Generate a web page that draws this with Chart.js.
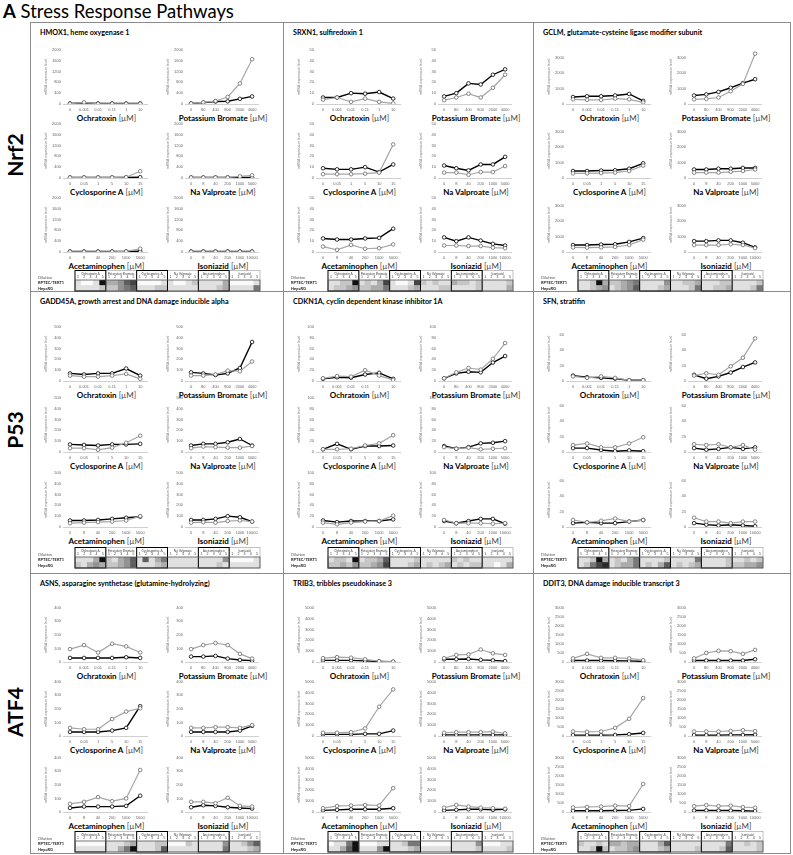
<!DOCTYPE html>
<html>
<head>
<meta charset="utf-8">
<script src="https://cdn.jsdelivr.net/npm/chart.js@4.4.0/dist/chart.umd.min.js"></script>
<style>
  body { margin: 0; background: #fff; font-family: Lato, 'Open Sans', sans-serif; }
  #page { position: relative; width: 793px; height: 855px; overflow: hidden; }
  #page canvas, #page .lbl, #page .line { position: absolute; }
  .lbl { white-space: nowrap; line-height: 1; color: #000; }
  .line { background: #8c8c8c; }
</style>
</head>
<body>
<div id="page"></div>
<script>
// pathways, genes and compounds
const pathwayNames = ['Nrf2', 'P53', 'ATF4'];
const geneTitles = [
  'HMOX1, heme oxygenase 1', 'SRXN1, sulfiredoxin 1', 'GCLM, glutamate-cysteine ligase modifier subunit',
  'GADD45A, growth arrest and DNA damage inducible alpha', 'CDKN1A, cyclin dependent kinase inhibitor 1A', 'SFN, stratifin',
  'ASNS, asparagine synthetase (glutamine-hydrolyzing)', 'TRIB3, tribbles pseudokinase 3', 'DDIT3, DNA damage inducible transcript 3'
];
const compoundNames = ['Ochratoxin', 'Potassium Bromate', 'Cyclosporine A', 'Na Valproate', 'Acetaminophen', 'Isoniazid'];
const heatGroupNames = ['Ochratoxin A', 'Potassium Bromate', 'Cyclosporine A', 'Na Valproate', 'Acetaminophen', 'Isoniazid'];
const dilutionLabels = ['1', '2', '3', '4', '5'];

// dose tick labels (µM)
const ochratoxinDoses = ['0', '0.001', '0.01', '0.11', '1', '10'];
const bromateDoses = ['0', '80', '400', '800', '2000', '4000'];
const cyclosporineDoses = ['0', '0.05', '1', '5', '10', '15'];
const valproateDoses = ['0', '8', '40', '200', '1000', '5000'];
const acetaminophenDoses = ['0', '8', '40', '200', '1000', '5000'];
const isoniazidDoses = ['0', '8', '40', '200', '1000', '10000'];
const doseLabels = [ochratoxinDoses, bromateDoses, cyclosporineDoses, valproateDoses, acetaminophenDoses, isoniazidDoses];

// y axis per gene
const yMaxes = [2000, 50, 3500, 500, 100, 70, 400, 5000, 3000];
const ySteps = [200, 5, 500, 50, 10, 10, 50, 500, 500];

// mRNA expression, one row per compound (Och, KBrO3, CycA, NaVal, APAP, INH)
const hmox1Black = [[20,40,20,20,20,20],[20,50,90,100,190,280],[20,20,20,20,20,30],[20,20,20,20,20,20],[20,20,20,20,20,30],[20,20,20,20,20,20]];
const hmox1Gray = [[10,60,10,10,10,10],[20,60,110,260,760,1650],[20,20,20,20,30,250],[20,20,20,20,60,100],[10,10,10,10,20,120],[10,10,10,10,10,10]];
const srxn1Black = [[6,6,10,9.5,11,5],[7,10,19,18,27,32],[9,8,8,10,5.5,12.5],[11.5,9,7,12.5,12.5,19.5],[12.5,11.5,11.5,12.5,13,21.5],[13.5,10,13.5,10.5,7.5,6]];
const srxn1Gray = [[4,6,2,5,2,0.5],[3.5,6,9.5,6,15,27],[3.5,3.5,3.5,4,5,31],[5,5,3,5.5,5.5,11],[5,2,6.5,3,3.5,7],[6,6,5.5,5.5,4,3.5]];
const gclmBlack = [[450,500,500,550,650,200],[550,620,780,1050,1350,1600],[450,450,480,500,600,950],[550,550,600,600,650,650],[450,450,480,500,650,900],[700,700,750,750,600,300]];
const gclmGray = [[300,270,260,350,300,100],[300,330,420,820,1300,3250],[300,300,320,350,450,800],[350,350,350,400,450,550],[300,280,300,330,450,800],[450,450,450,500,450,250]];
const gadd45aBlack = [[70,60,70,70,115,50],[80,70,55,70,120,360],[70,65,60,70,70,75],[60,75,75,90,120,60],[60,60,65,75,85,95],[65,65,75,100,90,50]];
const gadd45aGray = [[50,40,40,50,65,20],[50,50,60,95,90,180],[35,35,20,40,85,150],[35,50,45,40,40,55],[35,40,45,50,60,100],[40,45,40,55,60,50]];
const cdkn1aBlack = [[4,7,6,12,15,4],[5,14,17,16,34,46],[5,15,5,11,11,12],[11,6,9,16,17,20],[12,9,11,11,11,14],[11,7,11,15,15,6]];
const cdkn1aGray = [[5,9,8,20,10,2],[5,16,24,21,41,70],[5,5,6,12,16,31],[9,6,8,5,6,7],[8,5,8,10,11,21],[13,7,7,7,6,7]];
const sfnBlack = [[7,5,4,3,1,1],[8,3,6,11,18,24],[5,5,2.5,1,2,1],[5,3,4,6,4,6],[5,6,5,5,7,9],[5,3,2,3,2,1]];
const sfnGray = [[6,4,6,4,1,1],[7,10,8,19,30,55],[9,11,6,6,11,19],[10,9,10,6,9,3],[9,6,8,11,7,9],[12,7,7,5,7,7]];
const asnsBlack = [[30,30,30,30,35,30],[40,40,45,25,15,10],[30,30,30,40,60,220],[30,30,30,30,40,75],[30,40,40,40,45,120],[35,50,45,35,30,25]];
const asnsGray = [[95,125,70,135,115,70],[95,125,140,125,60,25],[60,50,50,125,180,205],[60,60,65,65,60,80],[60,75,110,80,100,310],[75,75,65,105,45,40]];
const trib3Black = [[150,150,150,100,50,20],[250,250,280,200,150,80],[150,150,150,200,200,500],[100,100,100,100,100,100],[150,200,250,250,250,350],[150,200,250,250,200,250]];
const trib3Gray = [[350,450,400,250,70,30],[350,650,700,1150,800,650],[300,300,350,700,2700,4300],[300,350,350,350,400,250],[350,550,600,650,600,2200],[400,650,500,400,350,300]];
const ddit3Black = [[80,80,80,70,60,30],[80,80,80,80,80,150],[50,50,50,60,100,170],[50,50,50,60,60,70],[70,70,70,80,90,170],[80,90,80,80,70,50]];
const ddit3Gray = [[200,450,230,230,200,100],[200,500,620,600,450,670],[250,230,250,450,950,2100],[250,250,250,280,320,270],[250,280,300,350,330,1550],[320,380,330,350,270,240]];
const blackSeries = [hmox1Black, srxn1Black, gclmBlack, gadd45aBlack, cdkn1aBlack, sfnBlack, asnsBlack, trib3Black, ddit3Black];
const graySeries = [hmox1Gray, srxn1Gray, gclmGray, gadd45aGray, cdkn1aGray, sfnGray, asnsGray, trib3Gray, ddit3Gray];

// heat map shading 0 (white) .. 9 (black), 5 dilutions x 6 compounds
const hmox1HeatRptec = [1,0,0,1,9, 3,3,4,6,7, 0,0,0,0,1, 1,0,0,1,2, 1,1,1,1,3, 0,0,0,0,1];
const hmox1HeatHepa = [1,1,1,1,2, 2,2,4,5,6, 1,1,1,2,2, 1,1,1,1,1, 1,1,1,2,3, 1,1,1,1,5];
const srxn1HeatRptec = [1,1,2,2,9, 1,2,1,3,7, 1,0,0,1,7, 2,1,2,1,1, 3,2,2,1,2, 1,1,1,1,2];
const srxn1HeatHepa = [1,2,2,3,4, 2,2,3,3,5, 1,1,1,2,3, 1,1,1,2,2, 1,1,1,1,2, 1,1,1,1,3];
const gclmHeatRptec = [1,1,2,9,3, 2,2,3,4,5, 1,1,1,1,4, 1,1,2,2,3, 1,1,1,2,2, 1,1,1,1,2];
const gclmHeatHepa = [1,1,2,3,4, 1,2,3,4,6, 1,1,1,2,3, 1,1,1,2,5, 1,1,2,2,3, 1,1,1,2,5];
const gadd45aHeatRptec = [1,1,1,3,9, 2,1,3,4,6, 1,6,1,3,5, 1,1,1,1,1, 1,1,1,1,4, 0,0,0,0,1];
const gadd45aHeatHepa = [2,1,3,4,3, 2,2,3,4,6, 1,1,1,2,3, 1,1,1,1,1, 1,1,1,2,1, 1,1,1,1,1];
const cdkn1aHeatRptec = [1,2,2,1,9, 1,2,2,3,6, 1,1,1,1,2, 1,1,1,1,1, 2,1,2,1,1, 1,1,1,1,1];
const cdkn1aHeatHepa = [2,2,3,2,4, 2,2,3,4,7, 1,1,1,2,3, 1,2,1,2,3, 1,2,1,2,2, 1,1,0,1,3];
const sfnHeatRptec = [1,1,2,9,3, 1,2,1,3,5, 1,1,1,1,2, 1,1,1,1,5, 1,1,1,1,2, 1,1,2,1,2];
const sfnHeatHepa = [1,2,5,7,8, 1,2,3,3,5, 1,2,1,3,6, 1,2,1,2,3, 1,1,1,1,2, 2,2,3,3,4];
const asnsHeatRptec = [0,0,0,0,0, 1,1,1,2,3, 1,1,1,2,2, 0,0,0,2,1, 1,1,1,1,4, 1,1,2,4,6];
const asnsHeatHepa = [1,1,1,1,1, 1,1,3,5,9, 1,1,1,2,6, 1,1,1,1,1, 1,1,1,1,5, 1,1,1,2,3];
const trib3HeatRptec = [0,1,1,5,9, 0,0,0,1,1, 1,1,2,5,5, 0,0,0,0,0, 1,1,1,1,4, 0,0,0,1,1];
const trib3HeatHepa = [1,1,3,6,9, 1,1,1,4,9, 1,1,1,2,3, 1,1,1,1,1, 1,1,1,1,2, 1,1,1,1,2];
const ddit3HeatRptec = [2,1,1,2,1, 3,3,2,3,3, 1,1,1,3,6, 1,1,1,1,1, 1,1,1,1,5, 1,1,2,1,2];
const ddit3HeatHepa = [1,1,2,9,2, 1,2,2,3,4, 1,1,1,2,3, 1,1,1,1,2, 1,1,1,2,6, 1,1,1,1,2];
const heatRptec = [hmox1HeatRptec, srxn1HeatRptec, gclmHeatRptec, gadd45aHeatRptec, cdkn1aHeatRptec, sfnHeatRptec, asnsHeatRptec, trib3HeatRptec, ddit3HeatRptec];
const heatHepa = [hmox1HeatHepa, srxn1HeatHepa, gclmHeatHepa, gadd45aHeatHepa, cdkn1aHeatHepa, sfnHeatHepa, asnsHeatHepa, trib3HeatHepa, ddit3HeatHepa];

// layout
const panelLeft = [30, 283, 533];
const panelRight = 790;
const panelTop = [22, 291, 573];
const panelBottom = 853;
const axisTitleY = [[118, 192, 266], [395, 466, 541], [676, 750, 826]];
const heatTop = [270, 547, 831];

const page = document.getElementById('page');

function addLabel(html, x, y, css) {
  const d = document.createElement('div');
  d.className = 'lbl';
  d.innerHTML = html;
  d.style.cssText += 'left:' + x + 'px;top:' + y + 'px;' + (css || '');
  page.appendChild(d);
  return d;
}

function addLine(x, y, w, h) {
  const d = document.createElement('div');
  d.className = 'line';
  d.style.cssText += 'left:' + x + 'px;top:' + y + 'px;width:' + w + 'px;height:' + h + 'px;';
  page.appendChild(d);
}

function makeCanvas(x, y, w, h) {
  const c = document.createElement('canvas');
  c.width = w; c.height = h;
  c.style.left = x + 'px'; c.style.top = y + 'px';
  c.style.width = w + 'px'; c.style.height = h + 'px';
  page.appendChild(c);
  return c.getContext('2d');
}

function grayOf(level) {
  const v = Math.round(250 - level * 26);
  return 'rgb(' + v + ',' + v + ',' + v + ')';
}

function lineChart(ctx, doses, black, gray, yMax, yStep) {
  new Chart(ctx, {
    type: 'line',
    data: {
      labels: doses,
      datasets: [
        { label: 'HepaRG', data: gray, borderColor: '#a6a6a6', borderWidth: 1.2, pointRadius: 1.8, pointBackgroundColor: '#fff', pointBorderColor: '#6a6a6a', pointBorderWidth: 0.8 },
        { label: 'RPTEC/TERT1', data: black, borderColor: '#000', borderWidth: 1.4, pointRadius: 1.8, pointBackgroundColor: '#fff', pointBorderColor: '#000', pointBorderWidth: 0.8 }
      ]
    },
    options: {
      responsive: false,
      animation: false,
      devicePixelRatio: 1,
      layout: { padding: { top: 3, right: 2 } },
      plugins: { legend: { display: false }, tooltip: { enabled: false } },
      scales: {
        x: {
          offset: true,
          grid: { display: false, drawTicks: false },
          border: { color: '#d0d0d0' },
          ticks: { font: { size: 4 }, color: '#666', padding: 3, maxRotation: 0, autoSkip: false },
          afterFit: s => { s.height = 9; }
        },
        y: {
          min: 0,
          max: yMax,
          grid: { display: false, drawTicks: false },
          border: { display: false },
          ticks: { stepSize: yStep, font: { size: 4 }, color: '#666', padding: 2, callback: v => v },
          title: { display: true, text: 'mRNA expression level', font: { size: 3.5 }, color: '#777', padding: 0 },
          afterFit: s => { s.width = 19; }
        }
      }
    }
  });
}

// header names, dilution row labels and group boxes of the heat map
const heatFrame = {
  id: 'heatFrame',
  afterDraw(chart) {
    const { ctx, chartArea: a, scales: { x } } = chart;
    const half = (x.getPixelForValue(1) - x.getPixelForValue(0)) / 2;
    const top = 0.5;
    ctx.save();
    ctx.textBaseline = 'middle';
    ctx.font = 'bold 4px Lato';
    ctx.fillStyle = '#222';
    ctx.textAlign = 'left';
    ctx.fillText('RPTEC/TERT1', 2, a.top + (a.bottom - a.top) * 0.25);
    ctx.fillText('HepaRG', 2, a.top + (a.bottom - a.top) * 0.75);
    ctx.font = '4px Lato';
    ctx.fillStyle = '#555';
    ctx.fillText('Dilution', 2, a.top - 2.5);
    ctx.textAlign = 'center';
    ctx.font = '3.2px Lato';
    const order = [1, 3, 5, 0, 2, 4];
    order.forEach(g => {
      const left = x.getPixelForValue(g * 5) - half;
      const right = x.getPixelForValue(g * 5 + 4) + half;
      ctx.fillStyle = '#444';
      ctx.fillText(heatGroupNames[g], (left + right) / 2, top + 3);
      ctx.strokeStyle = g % 2 === 0 ? '#000' : '#9a9a9a';
      ctx.lineWidth = g % 2 === 0 ? 1 : 0.6;
      ctx.strokeRect(left, top, right - left, a.bottom - top);
    });
    ctx.strokeStyle = '#555';
    ctx.lineWidth = 0.8;
    ctx.strokeRect(a.left, a.top, a.right - a.left, a.bottom - a.top);
    ctx.restore();
  }
};

function heatChart(ctx, rptec, hepa, padLeft) {
  const labels = [];
  heatGroupNames.forEach(() => dilutionLabels.forEach(d => labels.push(d)));
  new Chart(ctx, {
    type: 'bar',
    data: {
      labels: labels,
      datasets: [
        { label: 'HepaRG', data: hepa.map(() => 1), backgroundColor: hepa.map(grayOf) },
        { label: 'RPTEC/TERT1', data: rptec.map(() => 1), backgroundColor: rptec.map(grayOf) }
      ]
    },
    options: {
      responsive: false,
      animation: false,
      devicePixelRatio: 1,
      layout: { padding: { left: padLeft, right: 1, bottom: 1 } },
      datasets: { bar: { barPercentage: 1, categoryPercentage: 1, borderWidth: 0 } },
      plugins: { legend: { display: false }, tooltip: { enabled: false } },
      scales: {
        x: {
          stacked: true,
          position: 'top',
          grid: { display: false, drawTicks: false },
          border: { display: false },
          ticks: { font: { size: 3.5 }, color: '#444', padding: 1, maxRotation: 0, autoSkip: false },
          afterFit: s => { s.height = 10; }
        },
        y: { stacked: true, display: false, min: 0, max: 2 }
      }
    },
    plugins: [heatFrame]
  });
}

// title and frame
addLabel('<b>A</b> Stress Response Pathways', 3, 2, 'font-size:18.5px;');
addLine(panelLeft[0], panelTop[0], panelRight - panelLeft[0], 1);
addLine(panelLeft[0], panelBottom, panelRight - panelLeft[0], 1);
addLine(panelLeft[0], panelTop[0], 1, panelBottom - panelTop[0]);
addLine(panelRight, panelTop[0], 1, panelBottom - panelTop[0] + 1);
addLine(panelLeft[1], panelTop[0], 1, panelBottom - panelTop[0]);
addLine(panelLeft[2], panelTop[0], 1, panelBottom - panelTop[0]);
addLine(panelLeft[0], panelTop[1], panelRight - panelLeft[0], 1);
addLine(panelLeft[0], panelTop[2], panelRight - panelLeft[0], 1);

const rowLabelY = [155, 430, 712];
pathwayNames.forEach((name, r) => {
  addLabel(name, 14, rowLabelY[r], 'font-size:21px;font-weight:bold;transform:translate(-50%,-50%) rotate(-90deg);');
});

const chartBox = [[14, 108], [136, 97]];

for (let r = 0; r < 3; r++) {
  for (let c = 0; c < 3; c++) {
    const g = r * 3 + c;
    const px = panelLeft[c];
    addLabel(geneTitles[g], px + 10, panelTop[r] + 7, 'font-size:7.2px;font-weight:bold;');
    for (let i = 0; i < 6; i++) {
      const k = Math.floor(i / 2), j = i % 2;
      const t = axisTitleY[r][k];
      const cx = px + chartBox[j][0], cw = chartBox[j][1];
      lineChart(makeCanvas(cx, t - 73, cw, 68), doseLabels[i], blackSeries[g][i], graySeries[g][i], yMaxes[g], ySteps[g]);
      addLabel('<b>' + compoundNames[i] + '</b> <span style="color:#444">[µM]</span>',
        cx + 19 + (cw - 21) / 2, t, 'font-size:8px;transform:translate(-50%,-50%);');
    }
    heatChart(makeCanvas(px + 6, heatTop[r], 225, 22), heatRptec[g], heatHepa[g], 39);
  }
}
</script>
</body>
</html>
